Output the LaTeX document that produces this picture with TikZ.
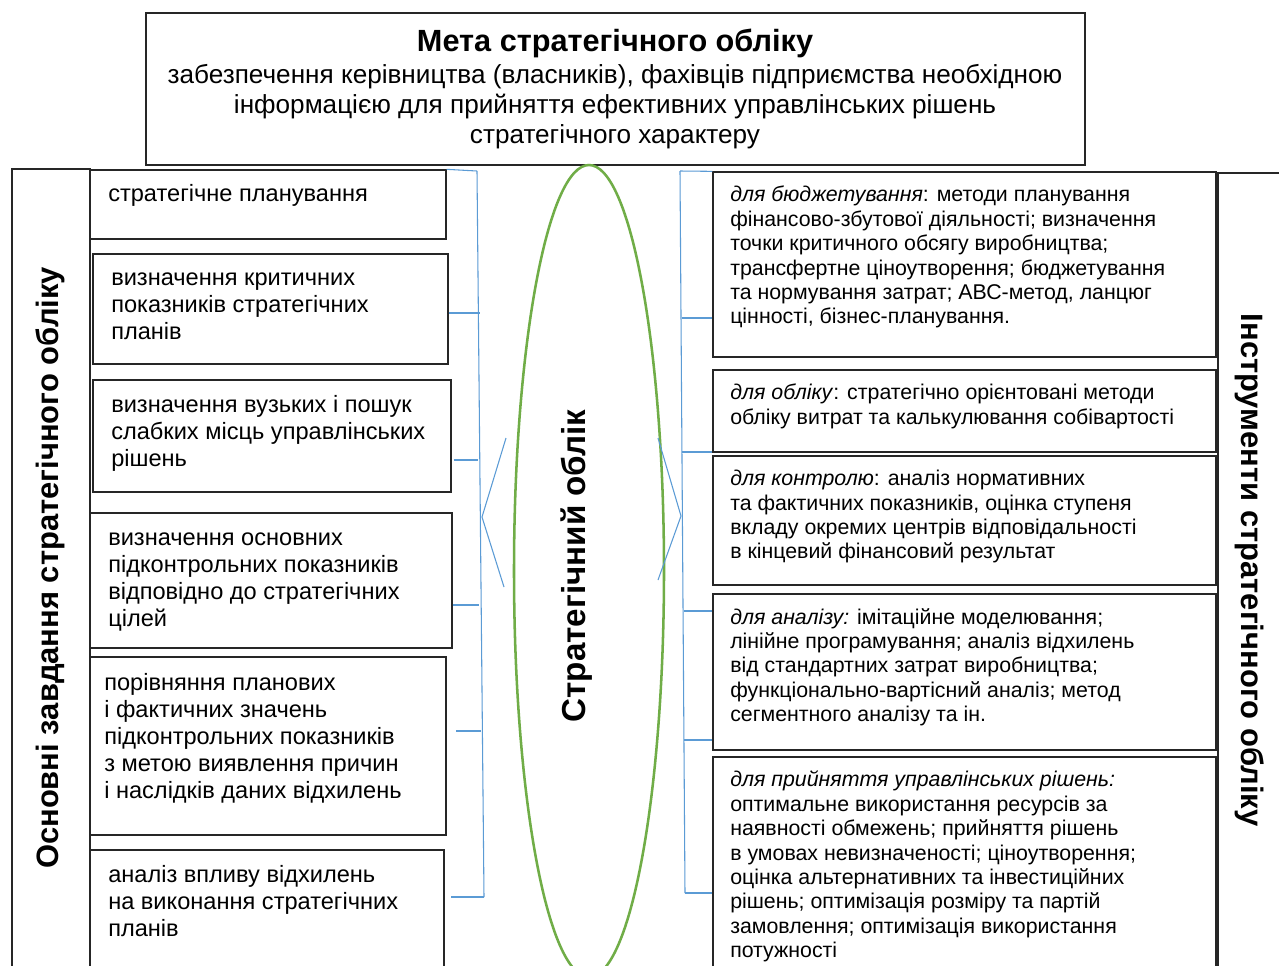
\documentclass[tikz,border=0pt]{standalone}
\usepackage{fontspec}
\setmainfont{Liberation Sans}
\usetikzlibrary{fit,shapes.geometric}
\definecolor{bl}{HTML}{5B9BD5}
\definecolor{gr}{HTML}{70AD47}
\definecolor{bx}{HTML}{262626}
\begin{document}
\begin{tikzpicture}[x=0.75pt,y=-0.75pt,
  box/.style={draw=bx, line width=1pt, inner sep=0pt},
  conn/.style={draw=bl, line width=0.8pt},
  lt/.style={anchor=west, inner sep=0pt, align=left, font=\fontsize{17.7}{20.25}\selectfont},
  rt/.style={anchor=west, inner sep=0pt, align=left, font=\fontsize{16}{18.3}\selectfont},
  vt/.style={inner sep=0pt, font=\fontsize{23.2}{26}\selectfont\bfseries}]
\useasboundingbox (0,0) rectangle (1279,965);
\fill[white] (0,0) rectangle (1279,965);
\clip (0,0) rectangle (1279,965);

% top goal box
\node[box, fit={(146,13)(1085,165)}] (goal) {};
\node[inner sep=0pt, font=\fontsize{23}{26}\selectfont\bfseries] (goalt) at (615,43) {Мета стратегічного обліку};
\node[inner sep=0pt, align=center, font=\fontsize{19.6}{22.5}\selectfont] (goalb) at (615,107)
  {\strut забезпечення керівництва (власників), фахівців підприємства необхідною\\
   інформацією для прийняття ефективних управлінських рішень\\
   стратегічного характеру\strut};

% left column
\node[box, fit={(12,169)(90,990)}] (tasks) {};
\node[vt, rotate=90] (taskst) at (50,568) {Основні завдання стратегічного обліку};

\node[box, fit={(90,170)(446,239)}] (L1) {};
\node[box, fit={(93,254)(448,364)}] (L2) {};
\node[box, fit={(93,380)(451,492)}] (L3) {};
\node[box, fit={(90,513)(452,648)}] (L4) {};
\node[box, fit={(90,657)(446,835)}] (L5) {};
\node[box, fit={(90,850)(444,990)}] (L6) {};

\node[lt] (L1t) at (108,196) {\strut стратегічне планування\strut};
\node[lt] (L2t) at (111,307) {\strut визначення критичних\\показників стратегічних\\планів\strut};
\node[lt] (L3t) at (111,434) {\strut визначення вузьких і пошук\\слабких місць управлінських\\рішень\strut};
\node[lt] (L4t) at (108,581) {\strut визначення основних\\підконтрольних показників\\відповідно до стратегічних\\цілей\strut};
\node[lt] (L5t) at (104,739) {\strut порівняння планових\\і фактичних значень\\підконтрольних показників\\з метою виявлення причин\\і наслідків даних відхилень\strut};
\node[lt] (L6t) at (108,904) {\strut аналіз впливу відхилень\\на виконання стратегічних\\планів\strut};

% central ellipse
\node[draw=gr, line width=1.9pt, ellipse, inner sep=0pt, minimum width=112.5pt, minimum height=609pt] (acc) at (589,571) {};
\node[inner sep=0pt, rotate=90, font=\fontsize{24.9}{28}\selectfont\bfseries] (acct) at (577,566) {Стратегічний облік};

% right column
\node[box, fit={(713,172)(1216,357)}] (R1) {};
\node[box, fit={(713,370)(1216,452)}] (R2) {};
\node[box, fit={(713,456)(1216,585)}] (R3) {};
\node[box, fit={(713,594)(1216,750)}] (R4) {};
\node[box, fit={(713,757)(1216,990)}] (R5) {};
\node[box, fit={(1218,173)(1300,990)}] (tools) {};
\node[vt, rotate=-90] (toolst) at (1250,570) {Інструменти стратегічного обліку};

\node[rt] (R1t) at (730,258) {\strut\textit{для бюджетування}: методи планування\\фінансово-збутової діяльності; визначення\\точки критичного обсягу виробництва;\\трансфертне ціноутворення; бюджетування\\та нормування затрат; АВС-метод, ланцюг\\цінності, бізнес-планування.\strut};
\node[rt] (R2t) at (730,407) {\strut\textit{для обліку}: стратегічно орієнтовані методи\\обліку витрат та калькулювання собівартості\strut};
\node[rt] (R3t) at (730,517.5) {\strut\textit{для контролю}: аналіз нормативних\\та фактичних показників, оцінка ступеня\\вкладу окремих центрів відповідальності\\в кінцевий фінансовий результат\strut};
\node[rt] (R4t) at (730,668) {\strut\textit{для аналізу:} імітаційне моделювання;\\лінійне програмування; аналіз відхилень\\від стандартних затрат виробництва;\\функціонально-вартісний аналіз; метод\\сегментного аналізу та ін.\strut};
\node[rt] (R5t) at (730,867.5) {\strut\textit{для прийняття управлінських рішень:}\\оптимальне використання ресурсів за\\наявності обмежень; прийняття рішень\\в умовах невизначеності; ціноутворення;\\оцінка альтернативних та інвестиційних\\рішень; оптимізація розміру та партій\\замовлення; оптимізація використання\\потужності\strut};

% left bracket
\coordinate (bLt) at (477,171);
\coordinate (bL2) at (480,313);
\coordinate (bL3) at (478,460);
\coordinate (bL4) at (479,605);
\coordinate (bL5) at (481,731);
\coordinate (bLb) at (484,897);
\coordinate (chL1) at (506,438);
\coordinate (chL2) at (482,517);
\coordinate (chL3) at (504,587);
\draw[conn] (L1.north east) -- (bLt);
\draw[conn] (bLt) -- (bLb);
\draw[conn] (bL2 -| L2.east) -- (bL2);
\draw[conn] ([xshift=1.5pt]bL3 -| L3.east) -- (bL3);
\draw[conn] (bL4 -| L4.east) -- (bL4);
\draw[conn] ([xshift=7pt]bL5 -| L5.east) -- (bL5);
\draw[conn] ([xshift=5pt]bLb -| L6.east) -- (bLb);
\draw[conn] (chL1) -- (chL2) -- (chL3);

% right bracket
\coordinate (bRt) at (680,171);
\coordinate (bR1) at (682,318);
\coordinate (bR2) at (682,452);
\coordinate (bR3) at (684,611);
\coordinate (bR4) at (684,740);
\coordinate (bRb) at (685,893);
\coordinate (chR1) at (658,438);
\coordinate (chR2) at (681,516);
\coordinate (chR3) at (658,580);
\draw[conn] (bRt) -- (R1.north west);
\draw[conn] (bRt) -- (bRb);
\draw[conn] (bR1) -- (bR1 -| R1.west);
\draw[conn] (bR2) -- (bR2 -| R2.west);
\draw[conn] (bR3) -- (bR3 -| R4.west);
\draw[conn] (bR4) -- (bR4 -| R4.west);
\draw[conn] (bRb) -- (bRb -| R5.west);
\draw[conn] (chR1) -- (chR2) -- (chR3);
\end{tikzpicture}
\end{document}
